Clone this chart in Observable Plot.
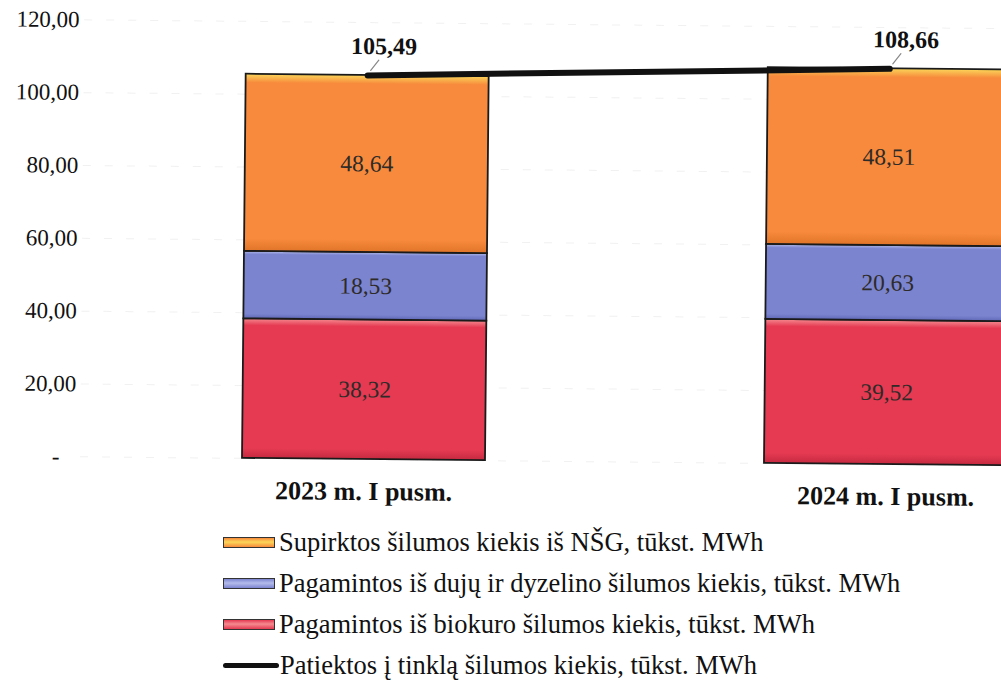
<!DOCTYPE html>
<html>
<head>
<meta charset="utf-8">
<script src="https://cdn.jsdelivr.net/npm/d3@7"></script>
<script src="https://cdn.jsdelivr.net/npm/@observablehq/plot@0.6"></script>
<style>
  html, body { margin: 0; padding: 0; background: #fff; overflow: hidden; }
  body { width: 1001px; height: 683px; position: relative; font-family: "Liberation Serif", "Times New Roman", serif; }
  #page { transform: rotate(0.55deg); transform-origin: 362px 458px; }
  #chart svg { display: block; overflow: visible; }
  .legend { position: absolute; left: 223px; top: 522px; }
  .legend .row { height: 41px; line-height: 1; display: flex; align-items: center; font-size: 26.5px; color: #111; white-space: nowrap; }
  .legend .sw { width: 52px; height: 11px; border: 1.5px solid #333; margin-right: 4px; box-sizing: border-box; }
  .legend .ln { width: 56px; height: 5px; background: #111; border-radius: 3px; margin-right: 1px; }
</style>
</head>
<body>
<div id="page">
<div id="chart"></div>
</div>
<div class="legend" id="legend"></div>
<script>
// ---- data ----
const categories = ["2023 m. I pusm.", "2024 m. I pusm."];
const seriesNames = [
  "Pagamintos iš biokuro šilumos kiekis, tūkst. MWh",
  "Pagamintos iš dujų ir dyzelino šilumos kiekis, tūkst. MWh",
  "Supirktos šilumos kiekis iš NŠG, tūkst. MWh"
];
const biokuras = [38.32, 39.52];
const dujos = [18.53, 20.63];
const nsg = [48.64, 48.51];
const lineName = "Patiektos į tinklą šilumos kiekis, tūkst. MWh";
const tiekta = [105.49, 108.66];
const yTicks = [0, 20, 40, 60, 80, 100, 120];
const seriesColors = ["#E53A52", "#7B84CF", "#F78A3C"];
const seriesHighlights = ["#F58A8F", "#B4BCEB", "#FBD75A"];
const seriesShades = ["#C52A40", "#5F68B5", "#E07428"];

// ---- build tables ----
const seriesValues = [biokuras, dujos, nsg];
const rows = [];
categories.forEach((c, i) => {
  seriesNames.forEach((s, j) => rows.push({cat: c, series: s, value: seriesValues[j][i]}));
});
const totals = categories.map((c, i) => ({cat: c, value: tiekta[i]}));
const fmt = v => v.toFixed(2).replace(".", ",");
const gradIds = seriesNames.map((s, j) => "grad" + j);

const font = "Liberation Serif, Times New Roman, serif";

const plot = Plot.plot({
  width: 1001,
  height: 520,
  marginTop: 22,
  marginBottom: 61,
  marginLeft: 80,
  marginRight: 0,
  style: {fontFamily: font, background: "white", color: "#111"},
  x: {type: "band", domain: categories, range: [241, 1007], paddingInner: 0.535, paddingOuter: 0, label: null},
  y: {domain: [0, 120], label: null},
  color: {domain: seriesNames, range: gradIds.map(id => `url(#${id})`)},
  marks: [
    Plot.gridY(yTicks, {stroke: "#e4e4e4", strokeOpacity: 0.5, strokeDasharray: "8,14"}),
    Plot.axisY({ticks: yTicks, tickSize: 0, tickPadding: 5, fontSize: 23,
      tickFormat: d => d === 0 ? "-\u00a0\u00a0\u2009" : fmt(d), label: null}),
    Plot.axisX({tickSize: 0, tickPadding: 22, fontSize: 26, fontWeight: "bold", label: null}),
    Plot.barY(rows, Plot.stackY({x: "cat", y: "value", fill: "series", stroke: "#1a1a1a", strokeWidth: 1.8})),
    Plot.text(rows, Plot.stackY({x: "cat", y: "value", text: d => fmt(d.value), fill: "#2e2a28", fontSize: 23.5})),
    Plot.line(totals, {x: "cat", y: "value", stroke: "#111", strokeWidth: 6, strokeLinecap: "round"}),
    Plot.vector(totals, {x: "cat", y: "value", length: 13, rotate: 38, anchor: "start", dx: 3, dy: -5,
      stroke: "#888", strokeWidth: 1.2,
      shape: {draw(context, l) { context.moveTo(0, 0); context.lineTo(0, -l); }}}),
    Plot.text(totals, {x: "cat", y: "value", text: d => fmt(d.value), dx: 16, dy: -29,
      fontSize: 24, fontWeight: "bold", fill: "#111"})
  ]
});

// gradient definitions for the bevelled bar look
const defs = d3.select(plot).insert("defs", ":first-child");
seriesNames.forEach((s, j) => {
  const g = defs.append("linearGradient").attr("id", gradIds[j])
    .attr("x1", 0).attr("y1", 0).attr("x2", 0).attr("y2", 1);
  g.append("stop").attr("offset", "0%").attr("stop-color", seriesHighlights[j]);
  g.append("stop").attr("offset", "5%").attr("stop-color", seriesColors[j]);
  g.append("stop").attr("offset", "93%").attr("stop-color", seriesColors[j]);
  g.append("stop").attr("offset", "100%").attr("stop-color", seriesShades[j]);
});
document.getElementById("chart").appendChild(plot);

// ---- legend ----
const legend = document.getElementById("legend");
[2, 1, 0].forEach(j => {
  const row = document.createElement("div");
  row.className = "row";
  const sw = document.createElement("span");
  sw.className = "sw";
  sw.style.background = `linear-gradient(${seriesColors[j]} 0%, ${seriesHighlights[j]} 45%, ${seriesColors[j]} 100%)`;
  row.appendChild(sw);
  row.appendChild(document.createTextNode(seriesNames[j]));
  legend.appendChild(row);
});
const lrow = document.createElement("div");
lrow.className = "row";
const ln = document.createElement("span");
ln.className = "ln";
lrow.appendChild(ln);
lrow.appendChild(document.createTextNode(lineName));
legend.appendChild(lrow);
</script>
</body>
</html>
